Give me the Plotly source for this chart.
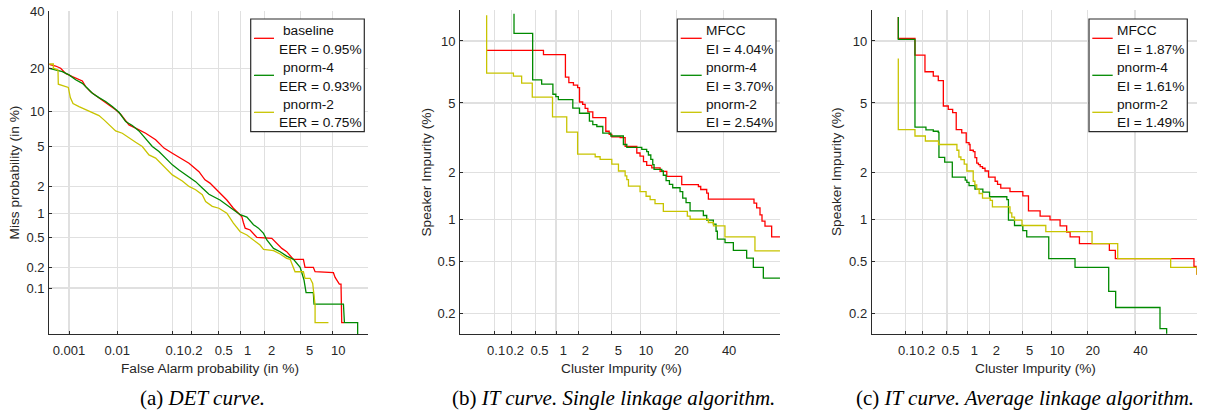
import plotly.graph_objects as go
from statistics import NormalDist

_nd = NormalDist()


def probit(pct):
    return _nd.inv_cdf(pct / 100.0)


# ---------------- (a) DET curve ----------------
det_names = ["baseline", "pnorm-4", "pnorm-2"]
det_eer = ["EER = 0.95%", "EER = 0.93%", "EER = 0.75%"]

det_baseline_fa = [0.000354, 0.000503, 0.000652, 0.000844, 0.001183, 0.001649, 0.001944, 0.002286,
                   0.002911, 0.003694, 0.005055, 0.006879, 0.0093, 0.01163, 0.01677, 0.02234, 0.03399,
                   0.05105, 0.07107, 0.0981, 0.1341, 0.1822, 0.2600, 0.3198, 0.3790, 0.4481, 0.5277,
                   0.6582, 0.8081, 0.9476, 1.043, 1.095, 1.155, 1.335, 1.471, 1.620, 2.440, 2.665, 2.894,
                   3.166, 3.574, 3.896, 4.222, 5.336, 5.538, 6.669, 6.93, 10.14, 10.49, 11.38, 11.75,
                   11.91, 12.45]
det_baseline_miss = [21.2, 20.7, 20.06, 18.6, 17.75, 16.9, 16.6, 15.2, 14.0, 13.15, 12.2, 11.2, 10.3,
                     9.49, 7.78, 7.31, 6.61, 5.79, 4.87, 4.36, 3.92, 3.50, 2.88, 2.37, 2.19, 1.94, 1.70,
                     1.43, 1.15, 1.008, 0.921, 0.778, 0.662, 0.628, 0.569, 0.506, 0.491, 0.445, 0.402,
                     0.363, 0.328, 0.295, 0.258, 0.258, 0.1995, 0.1995, 0.173, 0.1675, 0.1435, 0.1145,
                     0.1145, 0.0285, 0.0285]

det_pnorm4_fa = [0.000354, 0.000503, 0.000711, 0.001, 0.001398, 0.001944, 0.002477, 0.003156, 0.004324,
                 0.005897, 0.008, 0.01081, 0.01451, 0.01936, 0.0257, 0.03399, 0.04464, 0.05828, 0.07579,
                 0.0981, 0.1261, 0.1822, 0.2311, 0.2916, 0.3665, 0.5277, 0.6582, 0.8081, 0.9954, 1.215,
                 1.471, 1.695, 1.950, 2.134, 2.553, 3.030, 3.574, 4.222, 4.950, 5.143, 5.413, 5.673,
                 6.669, 6.773, 12.30, 12.53, 15.88, 15.88]
det_pnorm4_miss = [20.06, 19.6, 19.1, 18.2, 16.9, 16.0, 14.8, 13.65, 12.7, 11.9, 10.9, 9.84, 8.29, 7.69,
                   6.93, 5.99, 5.04, 4.52, 3.92, 3.37, 3.00, 2.57, 2.27, 1.94, 1.66, 1.43, 1.26, 1.12,
                   0.965, 0.904, 0.730, 0.662, 0.569, 0.468, 0.363, 0.328, 0.286, 0.258, 0.1995, 0.1675,
                   0.131, 0.0849, 0.0849, 0.0568, 0.0568, 0.0285, 0.0285, 0.0177]

det_pnorm2_fa = [0.000354, 0.000445, 0.000445, 0.000568, 0.000578, 0.000775, 0.000966, 0.00107,
                 0.001224, 0.001649, 0.002686, 0.004324, 0.005461, 0.006879, 0.0093, 0.01252, 0.01677,
                 0.02234, 0.02956, 0.03895, 0.05105, 0.07579, 0.0981, 0.1427, 0.1822, 0.2311, 0.2916,
                 0.3272, 0.4099, 0.5107, 0.6582, 0.8081, 0.9001, 0.9954, 1.215, 1.471, 1.770, 1.950,
                 2.553, 3.030, 3.574, 3.896, 4.222, 4.385, 5.336, 5.538, 6.216, 6.578, 6.93, 6.93, 9.178]
det_pnorm2_miss = [21.3, 21.3, 20.06, 19.6, 15.8, 15.45, 15.0, 12.7, 11.5, 10.9, 10.1, 9.27, 8.56, 7.78,
                   6.93, 6.61, 5.99, 5.50, 5.04, 4.21, 3.92, 3.13, 2.67, 2.31, 2.02, 1.86, 1.64, 1.37,
                   1.21, 1.15, 1.008, 0.764, 0.662, 0.597, 0.542, 0.468, 0.402, 0.353, 0.338, 0.305,
                   0.266, 0.258, 0.204, 0.173, 0.173, 0.139, 0.139, 0.117, 0.0547, 0.0285, 0.0285]

det_x_ticks = [0.001, 0.01, 0.1, 0.2, 0.5, 1, 2, 5, 10]
det_y_ticks = [0.1, 0.2, 0.5, 1, 2, 5, 10, 20, 40]

# ---------------- (b) IT curve, single linkage ----------------
it_names = ["MFCC", "pnorm-4", "pnorm-2"]
single_ei = ["EI = 4.04%", "EI = 3.70%", "EI = 2.54%"]

single_mfcc_ci = [0.0724, 0.653, 1.353, 1.507, 1.736, 1.97, 2.086, 2.29, 2.46, 2.66, 3.06, 4.35, 4.75,
                  5.08, 6.25, 7.05, 9.21, 9.89, 10.65, 11.40, 12.66, 14.92, 16.92, 22.00, 28.56, 29.55,
                  32.16, 32.9, 54.83, 56.13, 57.76, 58.72, 60.15, 63.30, 67.1]
single_mfcc_si = [9.07, 8.66, 6.76, 6.35, 6.18, 6.00, 5.06, 4.92, 4.68, 4.48, 4.17, 3.51, 3.37, 3.26,
                  3.23, 2.88, 2.63, 2.52, 2.34, 2.22, 2.14, 2.04, 1.90, 1.685, 1.64, 1.57, 1.49, 1.36,
                  1.28, 1.19, 1.07, 0.97, 0.896, 0.755, 0.755]

single_pnorm4_ci = [0.221, 0.221, 0.445, 0.613, 0.900, 0.993, 1.078, 1.703, 2.086, 2.78, 3.06, 3.42,
                    4.02, 4.96, 6.76, 7.33, 10.27, 11.40, 11.81, 12.41, 12.91, 13.25, 15.40, 15.87, 16.71,
                    17.76, 18.84, 21.38, 22.37, 23.61, 25.17, 30.68, 32.16, 35.16, 36.39, 37.01, 40.64,
                    44.68, 51.23, 54.51, 59.36, 67.1]
single_pnorm4_si = [13.1, 10.8, 6.56, 6.25, 5.55, 5.40, 5.20, 4.70, 4.41, 3.99, 3.82, 3.73, 3.43, 3.30,
                    2.95, 2.84, 2.76, 2.68, 2.56, 2.41, 2.24, 2.10, 2.05, 1.93, 1.785, 1.69, 1.61, 1.52,
                    1.38, 1.29, 1.14, 1.06, 0.985, 0.925, 0.827, 0.728, 0.689, 0.605, 0.532, 0.455,
                    0.377, 0.377]

single_pnorm2_ci = [0.0724, 0.0724, 0.216, 0.296, 0.439, 0.889, 1.41, 1.97, 3.27, 3.74, 5.08, 6.0, 7.05,
                    7.33, 7.62, 9.89, 11.25, 12.24, 13.51, 15.87, 24.1, 25.2, 32.9, 35.2, 40.6, 55.3, 67.1]
single_pnorm2_si = [12.9, 7.08, 6.84, 6.32, 5.36, 4.21, 3.47, 2.59, 2.50, 2.41, 2.26, 2.05, 1.91, 1.81,
                    1.65, 1.52, 1.42, 1.35, 1.27, 1.13, 1.05, 1.00, 0.95, 0.90, 0.755, 0.60, 0.60]

# ---------------- (c) IT curve, average linkage ----------------
avg_ei = ["EI = 1.87%", "EI = 1.61%", "EI = 1.49%"]

avg_mfcc_ci = [0.0745, 0.0745, 0.1485, 0.2205, 0.303, 0.365, 0.439, 0.524, 0.612, 0.692, 0.835, 0.970,
               1.064, 1.10, 1.222, 1.288, 1.362, 1.437, 1.518, 1.632, 1.763, 1.959, 2.380, 2.552, 2.798,
               3.617, 5.063, 5.832, 7.705, 9.63, 11.93, 13.63, 14.58, 17.37, 28.44, 30.99, 68.26, 69.44]
avg_mfcc_si = [12.7, 10.27, 8.63, 7.19, 6.84, 6.51, 4.82, 4.62, 4.44, 3.58, 3.44, 3.02, 2.95, 2.73, 2.68,
               2.47, 2.29, 2.24, 2.18, 2.13, 2.05, 1.88, 1.77, 1.69, 1.60, 1.52, 1.43, 1.14, 1.05, 0.99,
               0.90, 0.817, 0.755, 0.677, 0.605, 0.527, 0.463, 0.400]

avg_pnorm4_ci = [0.0745, 0.0745, 0.1485, 0.229, 0.303, 0.365, 0.374, 0.461, 0.604, 0.939, 0.991, 1.064,
                 1.288, 1.648, 2.019, 3.317, 3.465, 4.08, 5.063, 5.584, 9.366, 16.01, 28.16, 31.14,
                 52.21, 55.47]
avg_pnorm4_si = [12.7, 10.16, 3.70, 3.57, 3.51, 3.46, 2.48, 2.32, 1.88, 1.80, 1.74, 1.66, 1.58, 1.51,
                 1.41, 1.35, 0.985, 0.906, 0.836, 0.755, 0.527, 0.455, 0.299, 0.223, 0.150, 0.13]

avg_pnorm2_ci = [0.0745, 0.0745, 0.1485, 0.224, 0.368, 0.709, 0.758, 0.812, 0.908, 0.991, 1.218, 1.284,
                 1.362, 1.470, 1.632, 2.059, 2.200, 3.617, 3.795, 4.08, 4.96, 8.772, 21.66, 32.03,
                 57.42, 69.44]
avg_pnorm2_si = [8.31, 3.58, 3.30, 3.09, 2.95, 2.73, 2.49, 2.40, 2.26, 2.05, 1.77, 1.68, 1.58, 1.48,
                 1.38, 1.335, 1.21, 1.105, 1.034, 0.985, 0.906, 0.822, 0.677, 0.527, 0.455, 0.400]

it_x_ticks = [0.1, 0.2, 0.5, 1, 2, 5, 10, 20, 40]
it_y_ticks = [0.2, 0.5, 1, 2, 5, 10]

captions = [("(a) ", "DET curve."),
            ("(b) ", "IT curve. Single linkage algorithm."),
            ("(c) ", "IT curve. Average linkage algorithm.")]
axis_titles = [("False Alarm probability (in %)", "Miss probability (in %)"),
               ("Cluster Impurity (%)", "Speaker Impurity (%)"),
               ("Cluster Impurity (%)", "Speaker Impurity (%)")]

# ---------------- styling / layout ----------------
W, H = 1206, 414
COLORS = ["#ff0000", "#008a00", "#c8c400"]
SANS = "Liberation Sans, Arial, Helvetica, sans-serif"
SERIF = "Liberation Serif, Times New Roman, serif"
AX = "#2b2b2b"
GRID = "#e0e0e0"

# leading-space padding of tick labels (cosmetic offset seen in the original)
det_x_pad = [0, 0, 1, 1, 3, 4, 4, 5, 3]
it_x_pad = [1, 2, 2, 4, 4, 4, 3, 3, 3]


def px(x):
    return x / W


def py(y):
    return 1 - y / H


def fmt(v):
    return "%g" % v


panels = [
    dict(xd=(49.3, 368.3), yd=(11, 334), xr=(-4.4877, -0.8789), yr=(-3.5614, -0.2533),
         xt=det_x_ticks, xpad=det_x_pad, yt=det_y_ticks,
         series=[(det_baseline_fa, det_baseline_miss), (det_pnorm4_fa, det_pnorm4_miss),
                 (det_pnorm2_fa, det_pnorm2_miss)], shape="linear",
         names=det_names, vals=det_eer,
         box=(250.7, 19, 364.3, 131.7), samp=(254, 274), name_x=280.7, val_x=277.3,
         ytitle_x=14, cap_x=202.5),
    dict(xd=(460.3, 780), yd=(10, 333.7), xr=(-3.5107, 0.4430), yr=(-2.9973, -1.0999),
         xt=it_x_ticks, xpad=it_x_pad, yt=it_y_ticks,
         series=[(single_mfcc_ci, single_mfcc_si), (single_pnorm4_ci, single_pnorm4_si),
                 (single_pnorm2_ci, single_pnorm2_si)], shape="hv",
         names=it_names, vals=single_ei,
         box=(677.3, 19, 776, 131.7), samp=(680.7, 701.7), name_x=704, val_x=704,
         ytitle_x=426.7, cap_x=613.7),
    dict(xd=(872, 1196.7), yd=(10, 333.7), xr=(-3.5015, 0.5087), yr=(-2.9973, -1.0999),
         xt=it_x_ticks, xpad=it_x_pad, yt=it_y_ticks,
         series=[(avg_mfcc_ci, avg_mfcc_si), (avg_pnorm4_ci, avg_pnorm4_si),
                 (avg_pnorm2_ci, avg_pnorm2_si)], shape="hv",
         names=it_names, vals=avg_ei,
         box=(1089, 19, 1187.3, 131.7), samp=(1092.3, 1112.7), name_x=1115, val_x=1115,
         ytitle_x=837.2, cap_x=1025),
]

fig = go.Figure()
shapes = []
annotations = []
layout = {}

for i, p in enumerate(panels):
    sfx = "" if i == 0 else str(i + 1)
    xa, ya = "x" + sfx, "y" + sfx
    for (xs, ys), col in zip(p["series"], COLORS):
        fig.add_trace(go.Scatter(
            x=[probit(v) for v in xs], y=[probit(v) for v in ys],
            mode="lines", line=dict(color=col, width=1.3, shape=p["shape"]),
            xaxis=xa, yaxis=ya, showlegend=False, hoverinfo="skip"))

    common = dict(showgrid=True, gridcolor=GRID, gridwidth=1.2, zeroline=False,
                  showline=True, linecolor=AX, linewidth=1.2, mirror=False,
                  ticks="inside", ticklen=3, tickwidth=1, tickcolor=AX, tickangle=0,
                  tickfont=dict(family=SANS, size=13, color="#262626"),
                  automargin=False, fixedrange=True)
    layout["xaxis" + sfx] = dict(
        common, domain=[px(p["xd"][0]), px(p["xd"][1])], range=list(p["xr"]),
        anchor=ya, tickmode="array", ticklabelstandoff=4,
        tickvals=[probit(v) for v in p["xt"]],
        ticktext=["\u00a0" * n + fmt(v) for v, n in zip(p["xt"], p["xpad"])])
    layout["yaxis" + sfx] = dict(
        common, domain=[py(p["yd"][1]), py(p["yd"][0])], range=list(p["yr"]),
        anchor=xa, tickmode="array", ticklabelstandoff=1,
        tickvals=[probit(v) for v in p["yt"]],
        ticktext=[fmt(v) for v in p["yt"]])

    # legend box
    bx0, by0, bx1, by1 = p["box"]
    shapes.append(dict(type="rect", xref="paper", yref="paper",
                       x0=px(bx0), x1=px(bx1), y0=py(by1), y1=py(by0),
                       line=dict(color=AX, width=1.2), fillcolor="white", layer="above"))
    for k in range(3):
        name_y = 30.3 + k * 37.0
        val_y = 49.3 + k * 36.7
        samp_y = 38.3 + k * 37.0
        shapes.append(dict(type="line", xref="paper", yref="paper",
                           x0=px(p["samp"][0]), x1=px(p["samp"][1]),
                           y0=py(samp_y), y1=py(samp_y),
                           line=dict(color=COLORS[k], width=1.3), layer="above"))
        annotations.append(dict(text=p["names"][k], x=px(p["name_x"]), y=py(name_y),
                                xref="paper", yref="paper", xanchor="left", yanchor="middle",
                                showarrow=False, font=dict(family=SANS, size=13.7, color="#111")))
        annotations.append(dict(text=p["vals"][k], x=px(p["val_x"]), y=py(val_y),
                                xref="paper", yref="paper", xanchor="left", yanchor="middle",
                                showarrow=False, font=dict(family=SANS, size=13.7, color="#111")))

    # axis titles
    xt_txt, yt_txt = axis_titles[i]
    annotations.append(dict(text=xt_txt, x=px((p["xd"][0] + p["xd"][1]) / 2 + 1.5), y=py(368.3),
                            xref="paper", yref="paper", xanchor="center", yanchor="middle",
                            showarrow=False, font=dict(family=SANS, size=13.7, color="#262626")))
    annotations.append(dict(text=yt_txt, x=px(p["ytitle_x"]), y=py((p["yd"][0] + p["yd"][1]) / 2),
                            xref="paper", yref="paper", xanchor="center", yanchor="middle",
                            textangle=-90, showarrow=False,
                            font=dict(family=SANS, size=13.7, color="#262626")))
    # caption
    lab, rest = captions[i]
    annotations.append(dict(text=lab + "<i>" + rest + "</i>", x=px(p["cap_x"]), y=py(398.3),
                            xref="paper", yref="paper", xanchor="center", yanchor="middle",
                            showarrow=False, font=dict(family=SERIF, size=21, color="#000")))

fig.update_layout(
    template="none", width=W, height=H, autosize=False,
    margin=dict(l=0, r=0, t=0, b=0, pad=0),
    paper_bgcolor="white", plot_bgcolor="white",
    showlegend=False, shapes=shapes, annotations=annotations, **layout)

fig.write_html("out.html", config={"displayModeBar": False, "staticPlot": True},
               post_script="document.body.style.margin='0';document.body.style.padding='0';")
